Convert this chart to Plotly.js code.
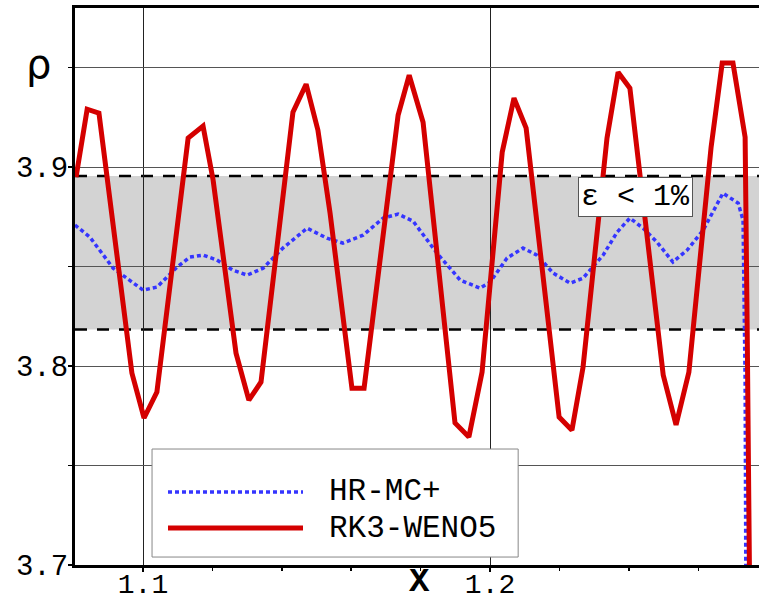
<!DOCTYPE html>
<html>
<head>
<meta charset="utf-8">
<script src="https://cdn.plot.ly/plotly-2.35.2.min.js"></script>
<style>html,body{margin:0;padding:0;background:#fff;}#chart{width:759px;height:605px;}</style>
</head>
<body>
<div id="chart"></div>
<script>
// RK3-WENO5 series
const rkX = [1.0807,1.0839,1.0873,1.0968,1.1003,1.1040,1.1130,1.1173,1.1202,1.1268,1.1305,1.1340,1.1432,1.1470,1.1504,1.1539,1.1602,1.1637,1.1735,1.1767,1.1807,1.1899,1.1939,1.1977,1.2035,1.2069,1.2104,1.2199,1.2236,1.2268,1.2337,1.2369,1.2403,1.2499,1.2536,1.2573,1.2637,1.2669,1.2700,1.2735,1.2741,1.2746,1.2750];
const rkY = [3.8950,3.9291,3.9271,3.7965,3.7739,3.7869,3.9146,3.9206,3.8935,3.8065,3.7829,3.7920,3.9276,3.9417,3.9186,3.8769,3.7889,3.7889,3.9261,3.9462,3.9226,3.7714,3.7643,3.7970,3.9075,3.9347,3.9196,3.7744,3.7678,3.7995,3.9146,3.9477,3.9397,3.7955,3.7704,3.7970,3.9101,3.9523,3.9523,3.9151,3.8180,3.7427,3.6500];
// HR-MC+ series
const hrX = [1.0804,1.0847,1.0914,1.1000,1.1040,1.1098,1.1135,1.1173,1.1213,1.1259,1.1300,1.1346,1.1403,1.1473,1.1530,1.1576,1.1634,1.1692,1.1735,1.1778,1.1847,1.1914,1.1971,1.2000,1.2049,1.2095,1.2135,1.2182,1.2231,1.2268,1.2326,1.2366,1.2403,1.2441,1.2481,1.2527,1.2568,1.2614,1.2671,1.2715,1.2729,1.2735,1.2738];
const hrY = [3.8709,3.8648,3.8492,3.8382,3.8397,3.8497,3.8548,3.8558,3.8533,3.8482,3.8457,3.8492,3.8593,3.8693,3.8643,3.8618,3.8658,3.8744,3.8764,3.8729,3.8568,3.8432,3.8392,3.8422,3.8543,3.8593,3.8558,3.8467,3.8417,3.8442,3.8558,3.8673,3.8744,3.8693,3.8623,3.8523,3.8583,3.8683,3.8869,3.8819,3.8734,3.7930,3.6500];
// 1% tolerance band
const bandLow = 3.8184;
const bandHigh = 3.8956;
// ticks
const yTickVals = [3.7,3.75,3.8,3.85,3.9,3.95];
const yTickText = ["3.7","","3.8","","3.9",""];
const xTickVals = [1.1,1.2];
const xTickText = ["1.1","1.2"];
const seriesNames = ["HR-MC+","RK3-WENO5"];

const RED = '#d40000', BLUE = '#3535ff';
const mono = 'Liberation Mono, Courier New, monospace';

const traces = [
  {x: hrX, y: hrY, mode:'lines', name: seriesNames[0], line:{color:BLUE, width:3.5, dash:'4px,3px'}, showlegend:false},
  {x: rkX, y: rkY, mode:'lines', name: seriesNames[1], line:{color:RED, width:5}, showlegend:false}
];

// legend geometry (data coords)
const lgX0 = 1.1026, lgX1 = 1.2081, lgY0 = 3.7040, lgY1 = 3.7583;
const lsX0 = 1.1072, lsX1 = 1.1461, lsY = [3.7367, 3.7186], ltX = 1.1530;

const layout = {
  width:759, height:605,
  margin:{l:75, r:0, t:8, b:40, pad:0},
  paper_bgcolor:'#fff', plot_bgcolor:'#fff',
  showlegend:false,
  xaxis:{
    range:[1.0804,1.2775], tickvals:xTickVals, ticktext:xTickText,
    ticks:'outside', ticklen:4, tickwidth:1.5, tickcolor:'#000',
    ticklabelstandoff:-13,
    showgrid:true, gridcolor:'#222', gridwidth:1,
    zeroline:false, showline:true, linecolor:'#000', linewidth:3, mirror:true,
    tickfont:{family:mono, size:28, color:'#000'},
    minor:{dtick:0.02, tick0:1.1, ticklen:3, tickcolor:'#000', showgrid:false, ticks:'outside'}
  },
  yaxis:{
    range:[3.7,3.98], tickvals:yTickVals, ticktext:yTickText,
    ticks:'outside', ticklen:4, tickwidth:1.5, tickcolor:'#000',
    ticklabelstandoff:-6,
    showgrid:true, gridcolor:'#555', gridwidth:1,
    zeroline:false, showline:true, linecolor:'#000', linewidth:3,
    tickfont:{family:mono, size:29, color:'#000'}
  },
  shapes:[
    {type:'rect', xref:'paper', yref:'y', x0:0, x1:1, y0:bandLow, y1:bandHigh, fillcolor:'#d3d3d3', line:{width:0}, layer:'below'},
    {type:'line', xref:'paper', yref:'y', x0:0, x1:1, y0:bandHigh, y1:bandHigh, line:{color:'#000', width:2.5, dash:'12px,10px'}, layer:'between'},
    {type:'line', xref:'paper', yref:'y', x0:0, x1:1, y0:bandLow, y1:bandLow, line:{color:'#000', width:2.5, dash:'12px,10px'}, layer:'between'},
    {type:'rect', xref:'x', yref:'y', x0:lgX0, x1:lgX1, y0:lgY0, y1:lgY1, fillcolor:'#fff', line:{color:'#888', width:1}, layer:'above'},
    {type:'line', xref:'x', yref:'y', x0:lsX0, x1:lsX1, y0:lsY[0], y1:lsY[0], line:{color:BLUE, width:3.5, dash:'4px,3px'}, layer:'above'},
    {type:'line', xref:'x', yref:'y', x0:lsX0, x1:lsX1, y0:lsY[1], y1:lsY[1], line:{color:RED, width:5}, layer:'above'}
  ],
  annotations:[
    {xref:'x', yref:'y', x:ltX, y:lsY[0], text:seriesNames[0], showarrow:false, xanchor:'left', yanchor:'middle', font:{family:mono, size:31, color:'#000'}},
    {xref:'x', yref:'y', x:ltX, y:lsY[1], text:seriesNames[1], showarrow:false, xanchor:'left', yanchor:'middle', font:{family:mono, size:31, color:'#000'}},
    {xref:'x', yref:'y', x:1.2418, y:3.8849, text:'ε < 1%', showarrow:false, xanchor:'center', yanchor:'middle', bgcolor:'#fff', bordercolor:'#555', borderwidth:1, borderpad:2, font:{family:mono, size:30, color:'#000'}},
    {xref:'paper', yref:'y', x:-0.054, y:3.952, text:'ρ', showarrow:false, xanchor:'center', yanchor:'middle', font:{family:'DejaVu Sans, sans-serif', size:40, color:'#000'}},
    {xref:'x', yref:'paper', x:1.1798, y:-0.03, text:'<b>X</b>', showarrow:false, xanchor:'center', yanchor:'middle', font:{family:mono, size:34, color:'#000'}}
  ]
};

Plotly.newPlot('chart', traces, layout, {displayModeBar:false, staticPlot:true});
</script>
</body>
</html>
